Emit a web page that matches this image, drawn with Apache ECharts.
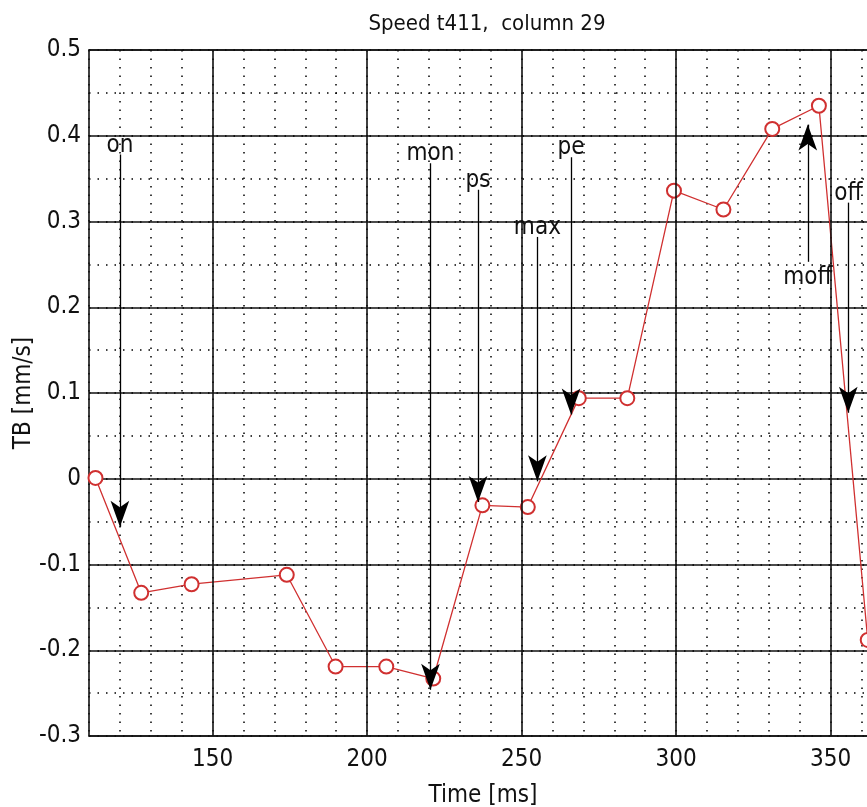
<!DOCTYPE html>
<html><head><meta charset="utf-8">
<script src="https://cdn.jsdelivr.net/npm/echarts@6/dist/echarts.min.js"></script>
<style>html,body{margin:0;padding:0;background:#fff}#c{width:867px;height:807px}</style>
</head><body><div id="c"></div>
<script>
// ---- data ----
const times  = [112.1, 126.9, 143.2, 174.0, 189.8, 206.2, 221.4, 237.3, 252.0, 268.5, 284.2, 299.3, 315.3, 331.1, 346.2, 362.0];
const speeds = [0.001, -0.133, -0.123, -0.112, -0.219, -0.219, -0.233, -0.031, -0.033, 0.094, 0.094, 0.336, 0.314, 0.408, 0.435, -0.188];
const majorX = [150, 200, 250, 300, 350];
const annNames = ['on', 'mon', 'ps', 'max', 'pe', 'moff', 'off'];
const annT     = [120.0, 220.5, 235.9, 255.1, 266.0, 342.6, 355.7];
const annFrom  = [0.378, 0.368, 0.337, 0.282, 0.375, 0.253, 0.322];
const annTo    = [-0.056, -0.246, -0.027, -0.003, 0.075, 0.413, 0.077];
const titleText = 'Speed t411,  column 29';
const xName = 'Time [ms]';
const yName = 'TB [mm/s]';

const FONT = '"Liberation Sans Narrow","Arial Narrow","DejaVu Sans Condensed",sans-serif';
const FS = 24;
const INK = '#111';
const DOT = {color: '#000', width: 1.5, type: [1.5, 7]};

const chart = echarts.init(document.getElementById('c'), null, {renderer: 'canvas'});
chart.setOption({
  animation: false,
  backgroundColor: '#fff',
  title: {
    text: titleText, left: 482, top: 8, textAlign: 'center',
    textStyle: {fontFamily: FONT, fontSize: 22, fontWeight: 'normal', color: INK}
  },
  grid: {left: 89, top: 50, bottom: 71, right: -10, containLabel: false, outerBoundsMode: 'none'},
  xAxis: [{
    type: 'value', min: 110, max: 365, interval: 10, position: 'bottom',
    name: xName, nameLocation: 'middle', nameGap: 48, nameMoveOverlap: false,
    nameTextStyle: {fontFamily: FONT, fontSize: FS, color: INK},
    axisLine: {show: true, onZero: false, lineStyle: {color: INK, width: 1.6}},
    axisTick: {show: false},
    axisLabel: {margin: 12, fontFamily: FONT, fontSize: FS, color: INK,
      formatter: v => (Math.round(v) % 50 === 0 ? String(Math.round(v)) : '')},
    splitLine: {show: true, lineStyle: DOT}
  }, {
    type: 'value', min: 110, max: 365, interval: 10, position: 'top',
    axisLine: {show: true, onZero: false, lineStyle: {color: INK, width: 1.6}},
    axisTick: {show: false},
    axisLabel: {show: false}, splitLine: {show: false}
  }],
  yAxis: [{
    type: 'value', min: -0.3, max: 0.5, interval: 0.1, position: 'left',
    name: yName, nameLocation: 'middle', nameGap: 53, nameMoveOverlap: false,
    nameTextStyle: {fontFamily: FONT, fontSize: FS, color: INK},
    axisLine: {show: true, onZero: false, lineStyle: {color: INK, width: 1.6}},
    axisTick: {show: false},
    axisLabel: {margin: 8, fontFamily: FONT, fontSize: FS, color: INK,
      formatter: v => (Math.abs(v) < 1e-9 ? '0' : v.toFixed(1))},
    splitLine: {show: true, lineStyle: {color: INK, width: 1.6, type: 'solid'}}
  }, {
    type: 'value', min: -0.3, max: 0.5, interval: 0.05, position: 'right',
    axisLine: {show: true, onZero: false, lineStyle: {color: INK, width: 1.6}},
    axisTick: {show: false}, axisLabel: {show: false},
    splitLine: {show: true, lineStyle: DOT}
  }],
  series: [{
    // major (solid) vertical grid lines
    type: 'line', xAxisIndex: 0, yAxisIndex: 0, data: [], z: 1, silent: true,
    markLine: {
      silent: true, symbol: ['none', 'none'], animation: false,
      label: {show: false},
      lineStyle: {color: INK, width: 1.6, type: 'solid'},
      data: majorX.map(v => ({xAxis: v}))
    }
  }, {
    type: 'line', xAxisIndex: 0, yAxisIndex: 0, z: 3,
    data: times.map((t, i) => [t, speeds[i]]),
    symbol: 'emptyCircle', symbolSize: 14, showSymbol: true,
    lineStyle: {color: '#d03030', width: 1.3},
    itemStyle: {color: '#d03030', borderColor: '#d03030', borderWidth: 1.2}
  }, {
    // annotation arrows
    type: 'line', xAxisIndex: 0, yAxisIndex: 0, data: [], z: 5, silent: true,
    markLine: {
      silent: true, animation: false,
      symbol: ['none', 'arrow'], symbolSize: [0, 16],
      lineStyle: {color: '#000', width: 1.3, type: 'solid'},
      itemStyle: {color: '#000'},
      label: {show: true, position: 'start', formatter: '{b}', distance: -3,
        fontFamily: FONT, fontSize: FS, color: INK},
      data: annNames.map((n, i) => [
        {name: n, coord: [annT[i], annFrom[i]], label: n === 'moff' ? {distance: 4} : undefined},
        {coord: [annT[i], annTo[i]], symbol: 'arrow', symbolSize: [14, 26]}
      ])
    }
  }]
});
</script></body></html>
